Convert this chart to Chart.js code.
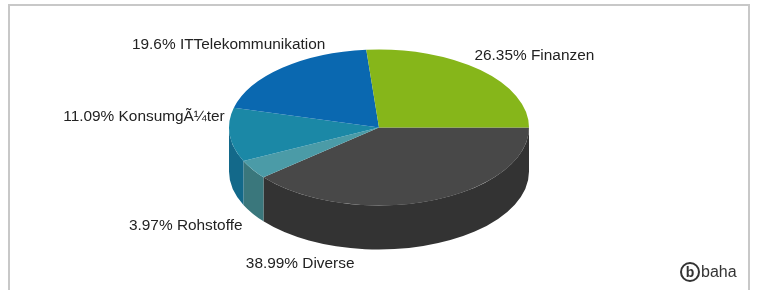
<!DOCTYPE html>
<html>
<head>
<meta charset="utf-8">
<script src="https://cdn.jsdelivr.net/npm/chart.js@4"></script>
<style>
  html, body { margin: 0; padding: 0; background: #fff; overflow: hidden; }
  #wrap { position: relative; width: 757px; height: 290px; }
  #frame { position: absolute; left: 8px; top: 4px; width: 742px; height: 320px;
           border: 2px solid #c8c8c8; box-sizing: border-box; }
  #logo { position: absolute; left: 680px; top: 262px; font: 16px "Liberation Sans", Arial, sans-serif;
          color: #333; display: flex; align-items: center; }
  #logo .b { display: inline-block; width: 16px; height: 16px; border: 2px solid #333; border-radius: 50%;
             font-weight: bold; font-size: 14px; line-height: 16px; text-align: center; margin-right: 1px; }
  canvas { position: absolute; left: 0; top: 0; }
</style>
</head>
<body>
<div id="wrap">
  <div id="frame"></div>
  <canvas id="pie" width="757" height="290"></canvas>
  <div id="logo"><span class="b">b</span>baha</div>
</div>
<script>
// data, listed clockwise from 3 o'clock
const categories = ["Diverse", "Rohstoffe", "KonsumgÃ¼ter", "ITTelekommunikation", "Finanzen"];
const shares = [38.99, 3.97, 11.09, 19.6, 26.35];

const topColors = ["#484848", "#4b9ba7", "#1b88a6", "#0a68b0", "#86b61a"];
const sideColors = ["#333333", "#3a777c", "#13698a", "#0a4f86", "#658a14"];
// label nudges from the slice's mid point on the rim
const labelShift = [[-184, 19], [-10, 12], [-5, -18], [43, -23], [-6, -14]];

const squash = 0.52;
const depth = 44;

const pie3d = {
  id: "pie3d",
  beforeDatasetsDraw(chart) {
    const ctx = chart.ctx;
    const arcs = chart.getDatasetMeta(0).data;
    const cx = arcs[0].x, cy = arcs[0].y, rx = arcs[0].outerRadius, ry = rx * squash;
    // side walls, only the front half (0..PI) is visible
    arcs.forEach((arc, i) => {
      let a = arc.startAngle % (2 * Math.PI), b = a + (arc.endAngle - arc.startAngle);
      a = Math.max(a, 0);
      b = Math.min(b, Math.PI);
      if (b <= a) return;
      ctx.beginPath();
      ctx.ellipse(cx, cy, rx, ry, 0, a, b);
      ctx.ellipse(cx, cy + depth, rx, ry, 0, b, a, true);
      ctx.closePath();
      ctx.fillStyle = sideColors[i];
      ctx.fill();
    });
    ctx.save();
    ctx.translate(cx, cy);
    ctx.scale(1, squash);
    ctx.translate(-cx, -cy);
  },
  afterDatasetsDraw(chart) {
    chart.ctx.restore();
  },
  afterDraw(chart) {
    const ctx = chart.ctx;
    const arcs = chart.getDatasetMeta(0).data;
    const cx = arcs[0].x, cy = arcs[0].y, rx = arcs[0].outerRadius, ry = rx * squash;
    ctx.save();
    ctx.font = '15.4px "Liberation Sans", Arial, sans-serif';
    ctx.fillStyle = "#222";
    ctx.textBaseline = "middle";
    arcs.forEach((arc, i) => {
      const mid = (arc.startAngle + arc.endAngle) / 2;
      let x = cx + rx * Math.cos(mid);
      let y = cy + ry * Math.sin(mid);
      if (Math.sin(mid) > 0.3) y += depth;
      ctx.textAlign = Math.cos(mid) > 0 ? "left" : "right";
      ctx.fillText(shares[i] + "% " + categories[i], x + labelShift[i][0], y + labelShift[i][1]);
    });
    ctx.restore();
  }
};

new Chart(document.getElementById("pie"), {
  type: "pie",
  data: {
    labels: categories,
    datasets: [{
      data: shares,
      backgroundColor: topColors,
      borderWidth: 0,
      radius: 150,
      clip: false
    }]
  },
  options: {
    responsive: false,
    animation: false,
    events: [],
    rotation: 90,
    layout: { padding: { left: 1, right: 0, top: 0, bottom: 35 } },
    plugins: { legend: { display: false }, tooltip: { enabled: false } }
  },
  plugins: [pie3d]
});
</script>
</body>
</html>
